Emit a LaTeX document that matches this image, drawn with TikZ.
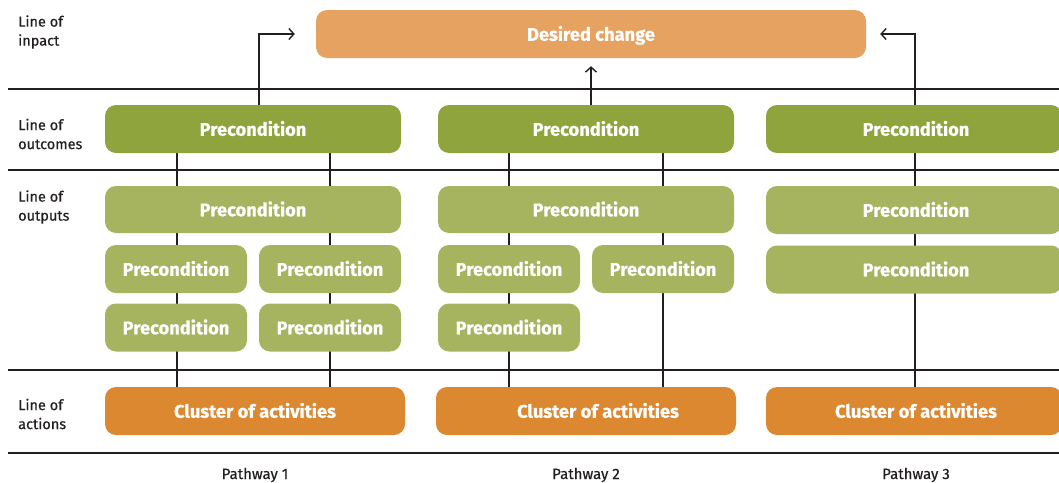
\documentclass[tikz,border=0pt]{standalone}
\usepackage{fontspec}
\setmainfont{Fira Sans}
\newfontfamily\boxfont[BoldFeatures={FakeBold=0.6}]{Fira Sans}
\newfontfamily\medfont[FakeBold=0.5]{Fira Sans}
\usetikzlibrary{arrows.meta}
\definecolor{impactc}{HTML}{E6A261}
\definecolor{outc}{HTML}{8FA43C}
\definecolor{outpc}{HTML}{A6B460}
\definecolor{actc}{HTML}{DC8831}
\definecolor{linec}{HTML}{231F20}
\tikzset{
  box/.style={rounded corners=11pt, inner sep=0pt, text=white, font=\boxfont\fontsize{18.3}{20}\selectfont\bfseries, text height=13.5pt, text depth=0pt},
  impactbox/.style={box, fill=impactc},
  outbox/.style={box, fill=outc},
  outpbox/.style={box, fill=outpc},
  actbox/.style={box, fill=actc},
  rowlabel/.style={anchor=west, align=left, inner sep=0pt, font=\medfont\fontsize{14.5}{19}\selectfont, text=linec},
  pathlabel/.style={inner sep=0pt, font=\medfont\fontsize{15}{17}\selectfont, text=linec},
  sep/.style={draw=linec, line width=1.6pt},
  conn/.style={draw=linec, line width=1.5pt},
  arr/.style={conn, -{Straight Barb[length=5pt,width=11pt,line width=1.4pt]}}
}
\begin{document}
\begin{tikzpicture}[x=1pt,y=-1pt]
\useasboundingbox (0,0) rectangle (1059,482);
\fill[white] (0,0) rectangle (1059,482);

% separators
\coordinate (s1a) at (8,89);  \coordinate (s1b) at (1059,89);
\coordinate (s2a) at (8,170); \coordinate (s2b) at (1059,170);
\coordinate (s3a) at (8,370); \coordinate (s3b) at (1059,370);
\coordinate (s4a) at (8,453); \coordinate (s4b) at (1059,453);
\draw[sep] (s1a) -- (s1b);
\draw[sep] (s2a) -- (s2b);
\draw[sep] (s3a) -- (s3b);
\draw[sep] (s4a) -- (s4b);

% row labels
\node[rowlabel] (l1) at (18,32) {Line of\\inpact};
\node[rowlabel] (l2) at (18,134) {Line of\\outcomes};
\node[rowlabel] (l3) at (18,207) {Line of\\outputs};
\node[rowlabel] (l4) at (18,414) {Line of\\actions};

% desired change
\node[impactbox, minimum width=550, minimum height=48] (dc) at (591,34) {Desired change};

% placeholders give names for connectors
\path (253,129) node[minimum width=296, minimum height=48] (o1) {};
\path (586,129) node[minimum width=296, minimum height=48] (o2) {};
\path (914,129) node[minimum width=296, minimum height=48] (o3) {};

\path (255,411) node[minimum width=300, minimum height=48] (a1) {};
\path (586,411) node[minimum width=300, minimum height=48] (a2) {};
\path (914,411) node[minimum width=296, minimum height=48] (a3) {};

% vertical connectors (behind boxes)
\draw[conn] (o1.south -| 177,0) -- (a1.north -| 177,0);
\draw[conn] (o1.south -| 330,0) -- (a1.north -| 330,0);
\draw[conn] (o2.south -| 509,0) -- (a2.north -| 509,0);
\draw[conn] (o2.south -| 663,0) -- (a2.north -| 663,0);
\draw[conn] (o3.south -| 915,0) -- (a3.north -| 915,0);

% arrows to desired change
\draw[arr] (o1.north -| 259,0) |- ([xshift=-21pt]dc.west);
\draw[arr] (o2.north -| 591,0) -- ([yshift=-8pt]dc.south);
\draw[arr] (o3.north -| 915,0) |- ([xshift=14pt]dc.east);

% outcome boxes
\node[outbox, minimum width=296, minimum height=48] at (o1) {Precondition};
\node[outbox, minimum width=296, minimum height=48] at (o2) {Precondition};
\node[outbox, minimum width=296, minimum height=48] at (o3) {\hspace*{4pt}Precondition};

% output boxes
\node[outpbox, minimum width=296, minimum height=47] (p1a) at (253,209.5) {Precondition};
\node[outpbox, minimum width=142, minimum height=48] (p1b) at (176,269) {Precondition};
\node[outpbox, minimum width=142, minimum height=48] (p1c) at (330,269) {Precondition};
\node[outpbox, minimum width=142, minimum height=48] (p1d) at (176,327.5) {Precondition};
\node[outpbox, minimum width=142, minimum height=48] (p1e) at (330,327.5) {Precondition};

\node[outpbox, minimum width=296, minimum height=47] (p2a) at (586,209.5) {Precondition};
\node[outpbox, minimum width=142, minimum height=48] (p2b) at (509,269) {Precondition};
\node[outpbox, minimum width=142, minimum height=48] (p2c) at (663,269) {Precondition};
\node[outpbox, minimum width=142, minimum height=48] (p2d) at (509,327.5) {Precondition};

\node[outpbox, minimum width=296, minimum height=48] (p3a) at (914,210) {\hspace*{4pt}Precondition};
\node[outpbox, minimum width=296, minimum height=48] (p3b) at (914,269.5) {\hspace*{4pt}Precondition};

% action boxes
\node[actbox, minimum width=300, minimum height=48] at (a1) {Cluster of activities};
\node[actbox, minimum width=300, minimum height=48] at (a2) {\hspace*{24pt}Cluster of activities};
\node[actbox, minimum width=296, minimum height=48] at (a3) {\hspace*{4pt}Cluster of activities};

% pathway labels
\node[pathlabel] (pw1) at (255,475) {Pathway 1};
\node[pathlabel] (pw2) at (586,475) {Pathway 2};
\node[pathlabel] (pw3) at (916,475) {Pathway 3};
\end{tikzpicture}
\end{document}
